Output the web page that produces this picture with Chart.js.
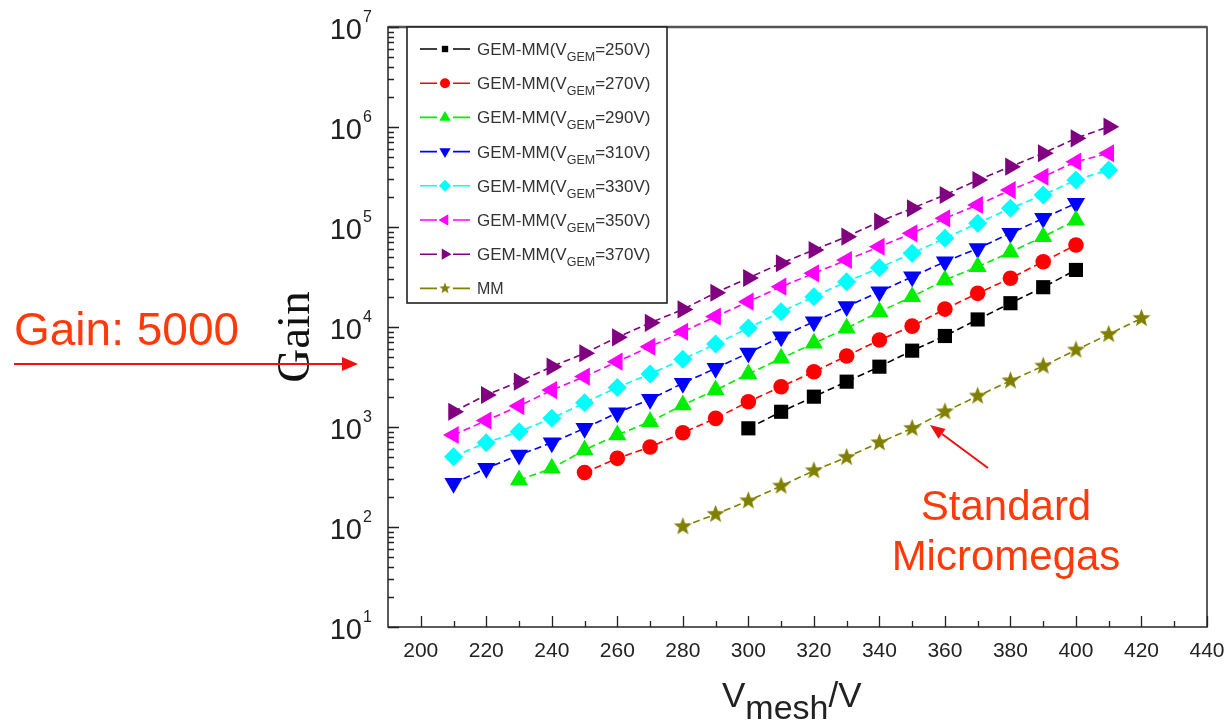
<!DOCTYPE html>
<html>
<head>
<meta charset="utf-8">
<script src="https://cdn.jsdelivr.net/npm/chart.js@4.4.1/dist/chart.umd.min.js"></script>
<style>
  html, body { margin: 0; padding: 0; background: #fff; }
  #wrap { position: relative; width: 1231px; height: 723px; }
</style>
</head>
<body>
<div id="wrap"><canvas id="gainChart"></canvas></div>
<script>
// mesh voltage (V) for each series
const vmesh250 = [300, 310, 320, 330, 340, 350, 360, 370, 380, 390, 400];
const vmesh270 = [250, 260, 270, 280, 290, 300, 310, 320, 330, 340, 350, 360, 370, 380, 390, 400];
const vmesh290 = [230, 240, 250, 260, 270, 280, 290, 300, 310, 320, 330, 340, 350, 360, 370, 380, 390, 400];
const vmesh310 = [210, 220, 230, 240, 250, 260, 270, 280, 290, 300, 310, 320, 330, 340, 350, 360, 370, 380, 390, 400];
const vmesh330 = [210, 220, 230, 240, 250, 260, 270, 280, 290, 300, 310, 320, 330, 340, 350, 360, 370, 380, 390, 400, 410];
const vmesh350 = [210, 220, 230, 240, 250, 260, 270, 280, 290, 300, 310, 320, 330, 340, 350, 360, 370, 380, 390, 400, 410];
const vmesh370 = [210, 220, 230, 240, 250, 260, 270, 280, 290, 300, 310, 320, 330, 340, 350, 360, 370, 380, 390, 400, 410];
const vmeshMM  = [280, 290, 300, 310, 320, 330, 340, 350, 360, 370, 380, 390, 400, 410, 420];

// gains
const gain250 = [970, 1420, 2010, 2840, 4010, 5800, 8130, 11900, 17300, 25000, 37200];
const gain270 = [350, 486, 630, 877, 1220, 1790, 2530, 3570, 5130, 7410, 10200, 15100, 21700, 30700, 45000, 66000];
const gain290 = [295, 386, 590, 832, 1130, 1660, 2340, 3390, 4860, 6870, 9700, 14200, 20100, 29500, 40000, 56000, 80000, 117000];
const gain310 = [274, 386, 525, 697, 970, 1390, 1890, 2740, 3860, 5500, 8000, 11300, 16000, 22500, 31800, 45000, 61000, 86500, 122000, 173000];
const gain330 = [505, 697, 898, 1220, 1750, 2490, 3390, 4750, 6760, 9770, 14200, 20100, 28400, 39200, 54600, 77100, 109000, 154000, 209000, 295000, 372000];
const gain350 = [832, 1160, 1620, 2340, 3190, 4500, 6350, 8970, 12700, 17900, 25300, 34400, 46800, 63500, 86500, 122000, 166000, 234000, 318000, 450000, 546000];
const gain370 = [1420, 2090, 2840, 4010, 5460, 7890, 11000, 15000, 22000, 30900, 43400, 58900, 80000, 113000, 154000, 209000, 295000, 401000, 546000, 771000, 1007000];
const gainMM  = [101, 134, 183, 257, 366, 498, 697, 970, 1420, 2040, 2900, 4070, 5890, 8450, 12200];

const xTicks = [200, 220, 240, 260, 280, 300, 320, 340, 360, 380, 400, 420, 440];
const xMinorTicks = [210, 230, 250, 270, 290, 310, 330, 350, 370, 390, 410, 430];
const yExponents = [1, 2, 3, 4, 5, 6, 7];

const legendVgem = ['250', '270', '290', '310', '330', '350', '370'];

function toPoints(xs, ys) {
    return xs.map((x, i) => ({ x: x, y: ys[i] }));
}

// filled five point star for the MM series
function makeStar(r, color) {
    const c = document.createElement('canvas');
    c.width = c.height = Math.ceil(2 * r + 2);
    const g = c.getContext('2d');
    const cx = c.width / 2, cy = c.height / 2;
    g.beginPath();
    for (let i = 0; i < 10; i++) {
        const rad = i % 2 === 0 ? r : r * 0.42;
        const a = -Math.PI / 2 + i * Math.PI / 5;
        const px = cx + rad * Math.cos(a), py = cy + rad * Math.sin(a);
        if (i === 0) g.moveTo(px, py); else g.lineTo(px, py);
    }
    g.closePath();
    g.fillStyle = color;
    g.fill();
    return c;
}

const olive = '#808000';
const starBig = makeStar(9.5, olive);
const starSmall = makeStar(6, olive);

function series(label, xs, ys, color, style, radius, rotation, legendRadius) {
    return {
        label: label,
        data: toPoints(xs, ys),
        borderColor: color,
        backgroundColor: color,
        borderWidth: 1.6,
        borderDash: [7, 4],
        pointStyle: style,
        pointRotation: rotation,
        pointRadius: radius,
        pointBorderWidth: 0,
        pointHoverRadius: radius,
        legendRadius: legendRadius,
        tension: 0
    };
}

const datasets = [
    series('250', vmesh250, gain250, '#000000', 'rect', 10, 0, 4.5),
    series('270', vmesh270, gain270, '#ff0000', 'circle', 7.8, 0, 5),
    series('290', vmesh290, gain290, '#00ee00', 'triangle', 10.5, 0, 6.5),
    series('310', vmesh310, gain310, '#0000ff', 'triangle', 10.5, 180, 6.5),
    series('330', vmesh330, gain330, '#00ffff', 'rectRot', 9.5, 0, 6),
    series('350', vmesh350, gain350, '#ff00ff', 'triangle', 10.5, 270, 6.5),
    series('370', vmesh370, gain370, '#800080', 'triangle', 10.5, 90, 6.5),
    series('MM', vmeshMM, gainMM, olive, starBig, 9.5, 0, 6)
];

function drawMarker(ctx, ds, r, x, y) {
    ctx.fillStyle = ds.backgroundColor;
    if (ds.pointStyle === starBig) {
        ctx.drawImage(starSmall, x - starSmall.width / 2, y - starSmall.height / 2);
        return;
    }
    Chart.helpers.drawPoint(ctx, { pointStyle: ds.pointStyle, rotation: ds.pointRotation, radius: r, borderWidth: 0 }, x, y);
}

const decorations = {
    id: 'decorations',
    afterDraw(chart) {
        const ctx = chart.ctx;
        const xs = chart.scales.x, ys = chart.scales.y;
        const a = chart.chartArea;
        ctx.save();

        // frame
        ctx.strokeStyle = '#333';
        ctx.lineWidth = 1.6;
        ctx.strokeRect(a.left, a.top, a.right - a.left, a.bottom - a.top);
        ctx.strokeStyle = '#555';
        ctx.lineWidth = 2.4;
        ctx.beginPath();
        ctx.moveTo(a.left, a.top); ctx.lineTo(a.right, a.top);
        ctx.stroke();

        // inward ticks
        ctx.strokeStyle = '#222';
        ctx.lineWidth = 1.3;
        ctx.beginPath();
        xTicks.forEach(v => {
            const px = Math.round(xs.getPixelForValue(v)) + 0.5;
            ctx.moveTo(px, a.bottom); ctx.lineTo(px, a.bottom - 11);
        });
        xMinorTicks.forEach(v => {
            const px = Math.round(xs.getPixelForValue(v)) + 0.5;
            ctx.moveTo(px, a.bottom); ctx.lineTo(px, a.bottom - 6);
        });
        yExponents.forEach(e => {
            const py = Math.round(ys.getPixelForValue(Math.pow(10, e))) + 0.5;
            ctx.moveTo(a.left, py); ctx.lineTo(a.left + 11, py);
            if (e < 7) {
                for (let m = 2; m <= 9; m++) {
                    const pm = Math.round(ys.getPixelForValue(m * Math.pow(10, e))) + 0.5;
                    ctx.moveTo(a.left, pm); ctx.lineTo(a.left + 6, pm);
                }
            }
        });
        ctx.stroke();

        // x tick labels
        ctx.fillStyle = '#222';
        ctx.font = '21px "Liberation Sans", Arial, sans-serif';
        ctx.textAlign = 'center';
        ctx.textBaseline = 'middle';
        xTicks.forEach(v => ctx.fillText(String(v), xs.getPixelForValue(v), 651));

        // y tick labels 10^n
        yExponents.forEach(e => {
            const py = ys.getPixelForValue(Math.pow(10, e));
            ctx.font = '29px "Liberation Sans", Arial, sans-serif';
            ctx.textAlign = 'right';
            ctx.textBaseline = 'alphabetic';
            ctx.fillText('10', 362, py + 12);
            ctx.font = '16px "Liberation Sans", Arial, sans-serif';
            ctx.textAlign = 'left';
            ctx.fillText(String(e), 363, py - 5);
        });

        // x axis title V_mesh/V
        ctx.fillStyle = '#222';
        ctx.textAlign = 'left';
        ctx.textBaseline = 'alphabetic';
        ctx.font = '35px "Liberation Sans", Arial, sans-serif';
        let tx = 722;
        ctx.fillText('V', tx, 707);
        tx += ctx.measureText('V').width;
        ctx.font = '34px "Liberation Sans", Arial, sans-serif';
        ctx.fillText('mesh', tx, 719);
        tx += ctx.measureText('mesh').width;
        ctx.font = '35px "Liberation Sans", Arial, sans-serif';
        ctx.fillText('/V', tx, 707);

        // y axis title
        ctx.save();
        ctx.translate(309, 337);
        ctx.rotate(-Math.PI / 2);
        ctx.fillStyle = '#111';
        ctx.font = '47px "Liberation Serif", "Times New Roman", serif';
        ctx.textAlign = 'center';
        ctx.fillText('Gain', 0, 0);
        ctx.restore();

        // legend box
        const lx = 407, ly = a.top, lw = 260, lh = 276;
        ctx.fillStyle = '#fff';
        ctx.fillRect(lx, ly, lw, lh);
        ctx.strokeStyle = '#222';
        ctx.lineWidth = 1.6;
        ctx.strokeRect(lx, ly, lw, lh);
        datasets.forEach((ds, i) => {
            const cy = 49 + i * 34.2;
            ctx.strokeStyle = ds.borderColor;
            ctx.lineWidth = 1.6;
            ctx.setLineDash([]);
            ctx.beginPath();
            ctx.moveTo(420, cy); ctx.lineTo(437, cy);
            ctx.moveTo(453, cy); ctx.lineTo(470, cy);
            ctx.stroke();
            drawMarker(ctx, ds, ds.legendRadius, 445, cy);

            ctx.fillStyle = '#333';
            ctx.textAlign = 'left';
            ctx.textBaseline = 'alphabetic';
            let x = 477;
            const base = cy + 6;
            if (ds.label === 'MM') {
                ctx.font = '16px "Liberation Sans", Arial, sans-serif';
                ctx.fillText('MM', x, base);
                return;
            }
            ctx.font = '17px "Liberation Sans", Arial, sans-serif';
            ctx.fillText('GEM-MM(V', x, base);
            x += ctx.measureText('GEM-MM(V').width;
            ctx.font = '12.5px "Liberation Sans", Arial, sans-serif';
            ctx.fillText('GEM', x, base + 6);
            x += ctx.measureText('GEM').width;
            ctx.font = '17px "Liberation Sans", Arial, sans-serif';
            ctx.fillText('=' + legendVgem[i] + 'V)', x, base);
        });

        // annotations
        ctx.fillStyle = '#ff3a0a';
        ctx.font = '46px "Liberation Sans", Arial, sans-serif';
        ctx.textAlign = 'left';
        ctx.fillText('Gain: 5000', 14, 345);
        ctx.font = '42px "Liberation Sans", Arial, sans-serif';
        ctx.textAlign = 'center';
        ctx.fillText('Standard', 1006, 520);
        ctx.fillText('Micromegas', 1006, 570);

        ctx.strokeStyle = '#f01010';
        ctx.fillStyle = '#f01010';
        ctx.lineWidth = 2;
        arrow(ctx, 14, 364, 358, 364, 16, 7);
        arrow(ctx, 988, 468, 930, 425, 15, 6);

        ctx.restore();
    }
};

function arrow(ctx, x0, y0, x1, y1, len, half) {
    const ang = Math.atan2(y1 - y0, x1 - x0);
    const bx = x1 - len * Math.cos(ang), by = y1 - len * Math.sin(ang);
    ctx.beginPath();
    ctx.moveTo(x0, y0);
    ctx.lineTo(bx, by);
    ctx.stroke();
    ctx.beginPath();
    ctx.moveTo(x1, y1);
    ctx.lineTo(bx + half * Math.sin(ang), by - half * Math.cos(ang));
    ctx.lineTo(bx - half * Math.sin(ang), by + half * Math.cos(ang));
    ctx.closePath();
    ctx.fill();
}

new Chart(document.getElementById('gainChart').getContext('2d'), {
    type: 'line',
    data: { datasets: datasets },
    options: {
        responsive: true,
        maintainAspectRatio: false,
        animation: false,
        layout: { padding: { left: 388, right: 24, top: 27, bottom: 96 } },
        plugins: {
            legend: { display: false },
            tooltip: { enabled: false }
        },
        scales: {
            x: { type: 'linear', min: 190, max: 440, display: false },
            y: { type: 'logarithmic', min: 10, max: 1e7, display: false }
        }
    },
    plugins: [decorations]
});
</script>
</body>
</html>
